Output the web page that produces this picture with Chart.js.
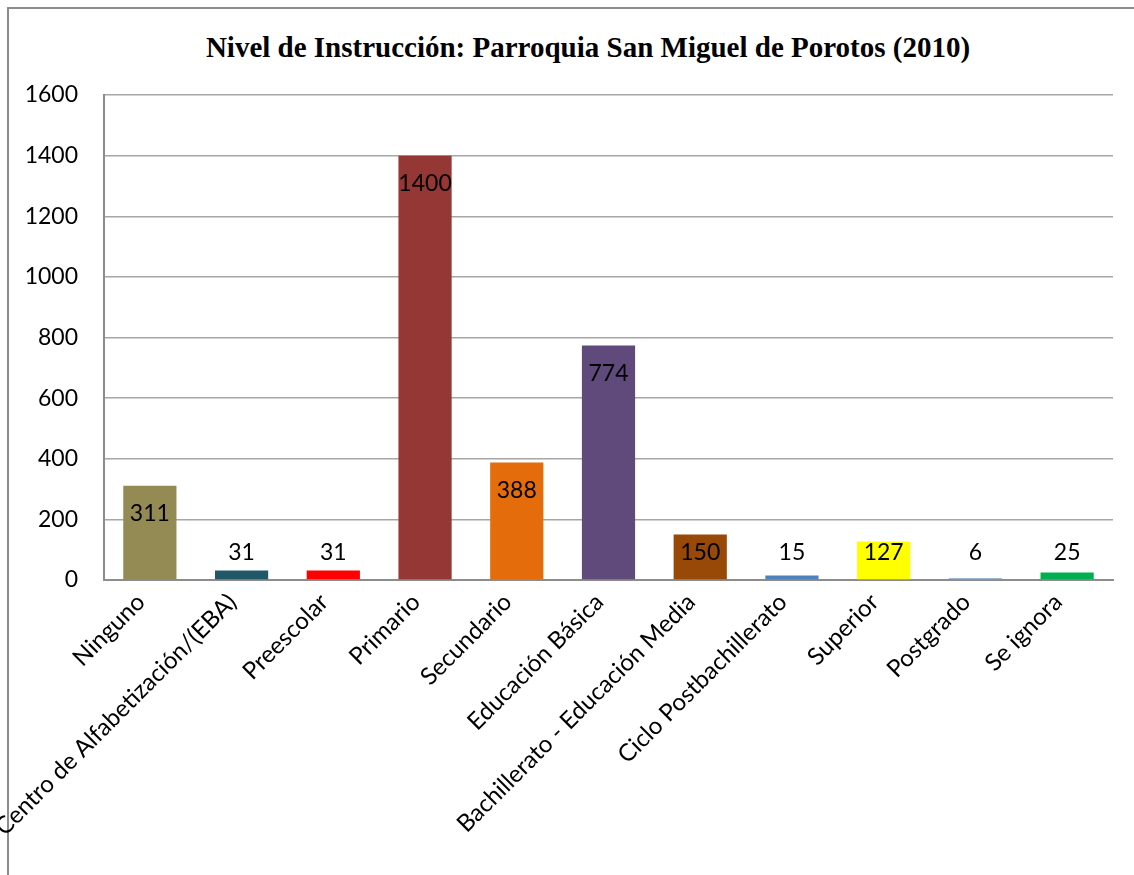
<!DOCTYPE html>
<html>
<head>
<meta charset="utf-8">
<script src="https://cdn.jsdelivr.net/npm/chart.js@4"></script>
<style>
  html, body { margin: 0; padding: 0; background: #fff; }
  body { width: 1134px; height: 875px; position: relative; overflow: hidden; }
  #frame {
    position: absolute; left: 7px; top: 7px; width: 1200px; height: 866px;
    border-left: 2px solid #8c8c8c; border-top: 2px solid #8c8c8c;
    border-bottom: 1px solid #d9d9d9;
  }
  #title {
    position: absolute; top: 30px; left: 0; width: 1176px; text-align: center;
    font-family: "Liberation Serif", "Times New Roman", serif; font-weight: bold;
    font-size: 29px; line-height: 34px; color: #000; white-space: nowrap;
  }
  #wrap { position: absolute; left: 0; top: 0; width: 1134px; height: 875px; }
</style>
</head>
<body>
<div id="frame"></div>
<div id="title">Nivel de Instrucción: Parroquia San Miguel de Porotos (2010)</div>
<div id="wrap"><canvas id="chart"></canvas></div>
<script>
// categorías y valores
const categories = [
  'Ninguno', 'Centro de Alfabetización/(EBA)', 'Preescolar', 'Primario', 'Secundario',
  'Educación Básica', 'Bachillerato - Educación Media', 'Ciclo Postbachillerato',
  'Superior', 'Postgrado', 'Se ignora',
];
const values = [311, 31, 31, 1400, 388, 774, 150, 15, 127, 6, 25];
const barColors = [
  '#948a54', '#215868', '#ff0000', '#953735', '#e46c0a',
  '#604a7b', '#984807', '#4f81bd', '#ffff00', '#7f9fc9', '#00b050',
];
const yTicks = { min: 0, max: 1600, step: 200 };

const FONT = "Lato, 'Open Sans', sans-serif";

// etiquetas de datos estilo Excel (dentro del extremo, sin pasar bajo el eje)
const valueLabels = {
  id: 'valueLabels',
  afterDatasetsDraw(chart) {
    const ctx = chart.ctx;
    const meta = chart.getDatasetMeta(0);
    ctx.save();
    ctx.font = '23px ' + FONT;
    ctx.fillStyle = '#000';
    ctx.textAlign = 'center';
    ctx.textBaseline = 'middle';
    meta.data.forEach((el, i) => {
      const y = Math.min(el.y + 28, el.base - 27);
      ctx.fillText(String(values[i]), el.x, y);
    });
    ctx.restore();
  },
};

new Chart(document.getElementById('chart'), {
  type: 'bar',
  data: {
    labels: categories,
    datasets: [{
      data: values,
      backgroundColor: barColors,
      borderWidth: 0,
      categoryPercentage: 1,
      barPercentage: 0.58,
    }],
  },
  options: {
    responsive: true, maintainAspectRatio: false,
    animation: false,
    layout: { padding: { left: 8, right: 21, top: 95, bottom: 0 } },
    plugins: { legend: { display: false }, tooltip: { enabled: false }, title: { display: false } },
    scales: {
      x: {
        grid: { display: false, drawTicks: false },
        border: { color: '#8c8c8c', width: 2 },
        ticks: {
          color: '#000', font: { family: FONT, size: 24 },
          maxRotation: 45, minRotation: 45, autoSkip: false, padding: 8,
          labelOffset: -9,
        },
        afterFit(scale) { scale.height = 295; },
      },
      y: {
        min: yTicks.min, max: yTicks.max,
        grid: { color: '#a6a6a6', lineWidth: 1.5, drawTicks: false },
        border: { color: '#8c8c8c', width: 2 },
        ticks: {
          stepSize: yTicks.step, color: '#000', padding: 26,
          font: { family: FONT, size: 23 },
          callback: (v) => String(v),
        },
        afterFit(scale) { scale.width = 96; },
      },
    },
  },
  plugins: [valueLabels],
});
</script>
</body>
</html>
